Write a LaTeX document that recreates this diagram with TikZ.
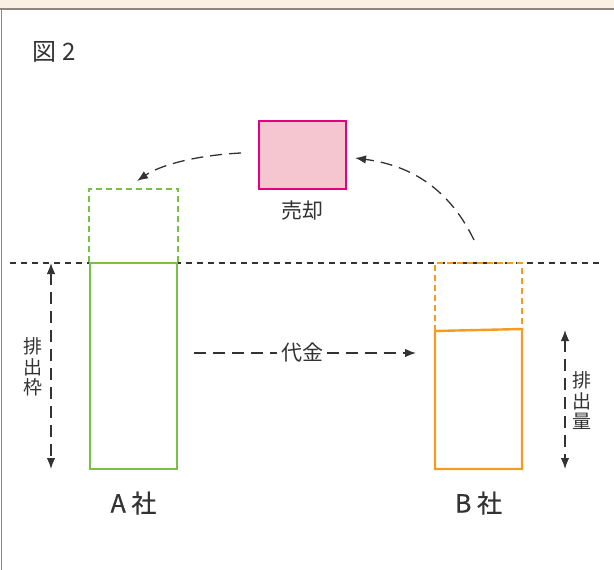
\documentclass[tikz,border=0pt]{standalone}
\usepackage{fontspec}
\setmainfont{Noto Sans CJK JP}
\newfontfamily\firmfont[FakeBold=0.6]{Noto Sans CJK JP}
\usetikzlibrary{arrows.meta,positioning}
\definecolor{frameback}{HTML}{FAF1E4}
\definecolor{framegrey}{HTML}{8F877F}
\definecolor{inkdark}{HTML}{333333}
\definecolor{agreen}{HTML}{7AC143}
\definecolor{borange}{HTML}{F39C1F}
\definecolor{sellpink}{HTML}{E5007E}
\definecolor{sellfill}{HTML}{F5C6D0}

\begin{document}
\begin{tikzpicture}[x=1pt,y=-1pt,>={Latex[length=11pt,width=8.5pt]},inkdark,
    line/.style={line width=1.3pt,dash pattern=on 12pt off 7pt},
    main node/.style={font=\fontsize{21}{24}\selectfont,text=inkdark},
    vert node/.style={align=center,font=\fontsize{19}{20.5}\selectfont,text=inkdark}]

            \useasboundingbox (0,0) rectangle (614,570);
            % frame
            \fill[frameback] (0,0) rectangle (614,9);
            \draw[framegrey, line width=1.5pt] (0,9) -- (614,9);
            \draw[framegrey, line width=1.5pt] (1.5,9) -- (1.5,570);

            \node[main node, font=\fontsize{24}{26}\selectfont] (title) at (54,52) {図 2};

            % limit line
            \draw[line width=1.3pt, dash pattern=on 6pt off 5pt] (10,263) -- (600,263);

            % boxes
            \node[rectangle, draw=agreen, line width=2.4pt, minimum width=87, minimum height=206, inner sep=0] (a) at (133.5,366) {};
            \draw[agreen, line width=2.4pt, dash pattern=on 6pt off 4pt] (a.north west) -- ++(0,-73) -| (a.north east);

            \coordinate (bnw) at (435,331);
            \coordinate (bne) at (522,329);
            \draw[borange, line width=2.4pt] (bnw) -- (bne) -- (522,469) -- (435,469) -- cycle;
            \draw[borange, line width=2.4pt, dash pattern=on 6pt off 4pt] (bnw) -- (435,263) -- (522,263) -- (bne);

            \node[rectangle, draw=sellpink, fill=sellfill, line width=2.4pt, minimum width=87, minimum height=68, inner sep=0] (sell) at (302.5,155) {};
            \node[main node] (selllabel) [below=7pt of sell] {売却};

            \node[main node, font=\firmfont\fontsize{25}{26}\selectfont] (alabel) at (133.5,503) {A 社};
            \node[main node, font=\firmfont\fontsize{25}{26}\selectfont] (blabel) at (478.5,503) {B 社};

            % arrows
            \coordinate (s1) at (241,153);
            \coordinate (e1) at (137,181);
            \coordinate (s2) at (474,240);
            \coordinate (e2) at (355,158);
            \draw[line, ->] (s1) .. controls (200,155) and (162,164) .. (e1);
            \draw[line, ->] (s2) .. controls (445,180) and (400,164) .. (e2);

            \node[main node] (pay) at (302,353) {代金};
            \coordinate (p1) at (194,353);
            \coordinate (p2) at (416,353);
            \draw[line] (p1) -- (pay);
            \draw[line, ->] (pay) -- (p2);

            \coordinate (q1) at (51,263);
            \coordinate (q2) at (51,469);
            \draw[line, <->] (q1) -- (q2);
            \node[vert node] (quota) at (33,367) {排\\出\\枠};

            \coordinate (r1) at (565,330);
            \coordinate (r2) at (565,469);
            \draw[line, <->] (r1) -- (r2);
            \node[vert node] (emit) at (582,401) {排\\出\\量};
        \end{tikzpicture}
\end{document}
